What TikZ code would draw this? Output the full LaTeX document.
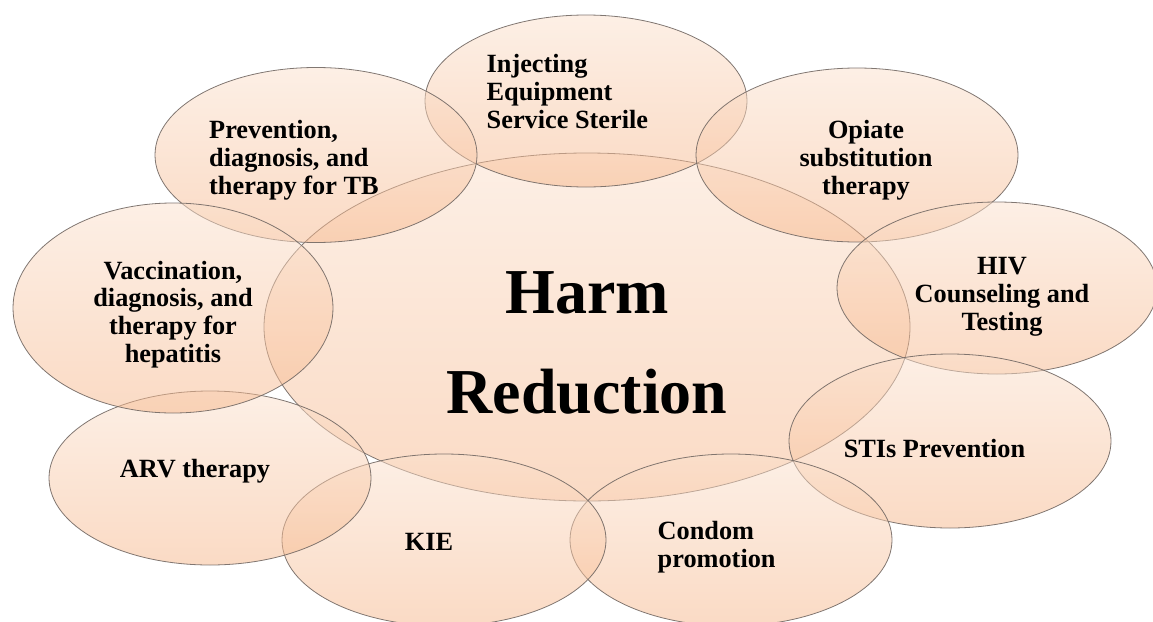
\documentclass[tikz,border=0pt]{standalone}
\usepackage{fontspec}
\setmainfont{Liberation Serif}
\usetikzlibrary{shapes.geometric}
\definecolor{peachtop}{RGB}{251,224,204}
\definecolor{peachbot}{RGB}{246,182,138}
\definecolor{ringline}{RGB}{115,105,100}
\begin{document}
\begin{tikzpicture}[x=1pt,y=-1pt,
  ring/.style={ellipse, inner sep=0pt, outer sep=0pt, top color=peachtop,
    bottom color=peachbot, fill opacity=0.5, draw=ringline, draw opacity=0.9,
    line width=0.8pt},
  lbl/.style={font=\fontsize{26.3}{27.6}\selectfont\bfseries, inner sep=0pt, text=black},
  hublbl/.style={font=\fontsize{64}{100}\selectfont\bfseries, inner sep=0pt, text=black}
]
\useasboundingbox (0,0) rectangle (1153,621);
% ellipses
\node[ring, minimum width=646pt, minimum height=348pt] (hub) at (587,327) {};
\node[ring, minimum width=322pt, minimum height=172pt] (eInj) at (586,101) {};
\node[ring, minimum width=322pt, minimum height=175pt] (ePrev) at (316,155) {};
\node[ring, minimum width=322pt, minimum height=174pt] (eOpi) at (857,155) {};
\node[ring, minimum width=320pt, minimum height=172pt] (eHiv) at (997,288) {};
\node[ring, minimum width=322pt, minimum height=174pt] (eSti) at (950,441) {};
\node[ring, minimum width=322pt, minimum height=172pt] (eCon) at (731,540) {};
\node[ring, minimum width=324pt, minimum height=172pt] (eKie) at (444,540) {};
\node[ring, minimum width=322pt, minimum height=174pt] (eArv) at (210,478) {};
\node[ring, minimum width=320pt, minimum height=210pt] (eVac) at (173,308) {};
% labels (base anchor = baseline of the last line)
\node[hublbl, align=center, anchor=base] (tHub) at (587,413) {Harm\\Reduction};
\node[lbl, align=left, anchor=base west] (tInj) at (486.5,128) {Injecting\\Equipment\\Service Sterile};
\node[lbl, align=left, anchor=base west] (tPrev) at (209,194) {Prevention,\\diagnosis, and\\therapy for TB};
\node[lbl, align=center, anchor=base] (tOpi) at (866,194) {Opiate\\substitution\\therapy};
\node[lbl, align=center, anchor=base] (tHiv) at (1002,330) {HIV\\Counseling and\\Testing};
\node[lbl, align=center, anchor=base] (tSti) at (934.5,457) {STIs Prevention};
\node[lbl, align=left, anchor=base west] (tCon) at (657.5,567) {Condom\\promotion};
\node[lbl, align=center, anchor=base] (tKie) at (429,550) {KIE};
\node[lbl, align=center, anchor=base] (tArv) at (195,477) {ARV therapy};
\node[lbl, align=center, anchor=base] (tVac) at (173,362) {Vaccination,\\diagnosis, and\\therapy for\\hepatitis};
\end{tikzpicture}
\end{document}
